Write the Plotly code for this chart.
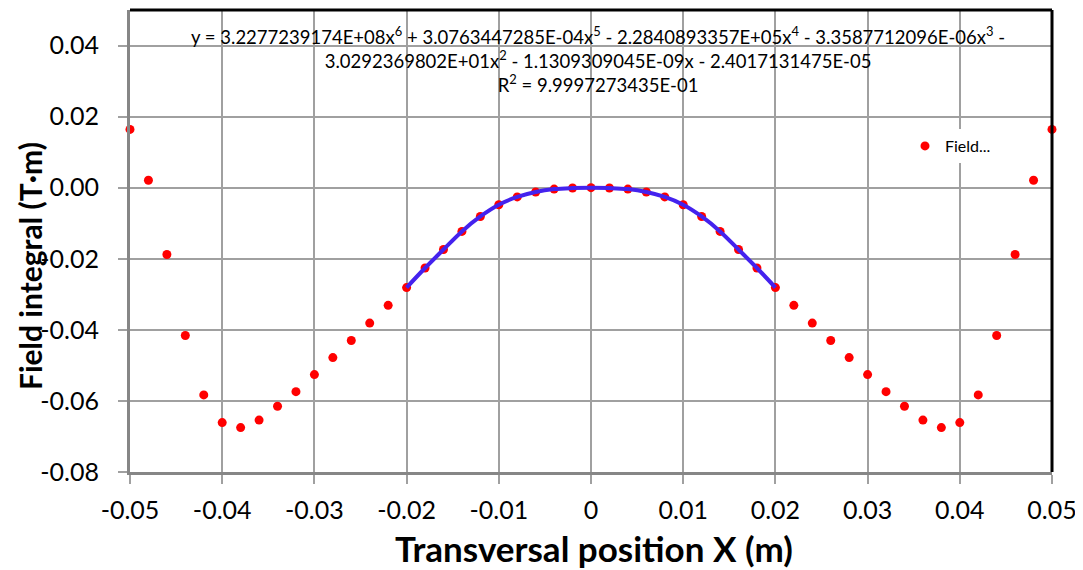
import plotly.graph_objects as go

# ---- data ----
x_pos = [-0.050, -0.048, -0.046, -0.044, -0.042, -0.040, -0.038, -0.036, -0.034, -0.032,
         -0.030, -0.028, -0.026, -0.024, -0.022, -0.020, -0.018, -0.016, -0.014, -0.012,
         -0.010, -0.008, -0.006, -0.004, -0.002, 0.000, 0.002, 0.004, 0.006, 0.008,
         0.010, 0.012, 0.014, 0.016, 0.018, 0.020, 0.022, 0.024, 0.026, 0.028,
         0.030, 0.032, 0.034, 0.036, 0.038, 0.040, 0.042, 0.044, 0.046, 0.048, 0.050]
field_integral = [0.0164, 0.0021, -0.0188, -0.0416, -0.0583, -0.0661, -0.0675, -0.0654, -0.0615, -0.0574,
                  -0.0526, -0.0478, -0.0430, -0.0381, -0.0331, -0.0281, -0.0226, -0.0174, -0.0123, -0.0081,
                  -0.0048, -0.0026, -0.0012, -0.0004, -0.0001, 0.0000, -0.0001, -0.0004, -0.0012, -0.0026,
                  -0.0048, -0.0081, -0.0123, -0.0174, -0.0226, -0.0281, -0.0331, -0.0381, -0.0430, -0.0478,
                  -0.0526, -0.0574, -0.0615, -0.0654, -0.0675, -0.0661, -0.0583, -0.0416, -0.0188, 0.0021, 0.0164]
fit_x = x_pos[15:36]
fit_y = field_integral[15:36]

x_tickvals = [-0.05, -0.04, -0.03, -0.02, -0.01, 0.0, 0.01, 0.02, 0.03, 0.04, 0.05]
x_ticktext = ["-0.05", "-0.04", "-0.03", "-0.02", "-0.01", "0", "0.01", "0.02", "0.03", "0.04", "0.05"]
y_tickvals = [-0.08, -0.06, -0.04, -0.02, 0.0, 0.02, 0.04]
y_ticktext = ["-0.08", "-0.06", "-0.04", "-0.02", "0.00", "0.02", "0.04"]

series_name = "Field..."
equation = ("y = 3.2277239174E+08x<sup>6</sup> + 3.0763447285E-04x<sup>5</sup> - 2.2840893357E+05x<sup>4</sup>"
            " - 3.3587712096E-06x<sup>3</sup> -<br>3.0292369802E+01x<sup>2</sup> - 1.1309309045E-09x"
            " - 2.4017131475E-05<br>R<sup>2</sup> = 9.9997273435E-01")
x_title = "Transversal position X (m)"
y_title = "Field integral (T·m)"

FONT = "Lato"
OFF = 8  # page body margin offset
W, H = 1083 - OFF, 570 - OFF
L, R, T, B = 130 - OFF, 31, 10 - OFF, 98
pw, ph = W - L - R, H - T - B


def px(xp):
    # xp: target pixel in the final screenshot
    return (xp - OFF - L) / pw


def py(yp):
    return (H - B - (yp - OFF)) / ph


fig = go.Figure()
fig.add_trace(go.Scatter(
    x=x_pos, y=field_integral, mode="markers", name=series_name,
    marker=dict(color="#FF0000", size=9), cliponaxis=False, showlegend=True))
fig.add_trace(go.Scatter(
    x=fit_x, y=fit_y, mode="lines", line=dict(color="#4422EE", width=4, shape="spline"),
    showlegend=False, hoverinfo="skip"))

fig.update_layout(
    width=W, height=H,
    margin=dict(l=L, r=R, t=T, b=B),
    paper_bgcolor="white", plot_bgcolor="white",
    font=dict(family=FONT, color="black"),
    showlegend=True,
    legend=dict(x=px(905), y=py(129), xanchor="left", yanchor="top",
                bgcolor="white", font=dict(size=16, family=FONT),
                itemwidth=30, tracegroupgap=0),
    xaxis=dict(range=[-0.05, 0.05], tickvals=x_tickvals, ticktext=x_ticktext,
               showgrid=True, gridcolor="#A0A0A0", gridwidth=1.5,
               showline=True, linecolor="#868686", linewidth=3,
               ticks="outside", ticklen=9, tickwidth=1.5, tickcolor="#A0A0A0",
               tickfont=dict(size=25, family=FONT), zeroline=False,
               ticklabelstandoff=5),
    yaxis=dict(range=[-0.08, 0.05], tickvals=y_tickvals, ticktext=y_ticktext,
               showgrid=True, gridcolor="#A0A0A0", gridwidth=1.5,
               showline=True, linecolor="#868686", linewidth=3,
               ticks="outside", ticklen=9, tickwidth=1.5, tickcolor="#A0A0A0",
               tickfont=dict(size=25, family=FONT), zeroline=False,
               ticklabelstandoff=14),
    shapes=[
        dict(type="rect", xref="paper", yref="paper", x0=px(181), x1=px(1010), y0=py(100), y1=py(20),
             fillcolor="white", line=dict(width=0), layer="between"),
        dict(type="line", xref="paper", yref="paper", x0=0, x1=1, y0=1, y1=1,
             line=dict(color="black", width=3), layer="above"),
        dict(type="line", xref="paper", yref="paper", x0=1, x1=1, y0=0, y1=1,
             line=dict(color="black", width=3), layer="above"),
    ],
    annotations=[
        dict(text=equation, xref="paper", yref="paper", x=px(598), y=py(59),
             xanchor="center", yanchor="middle", showarrow=False, align="center",
             font=dict(size=18.5, family=FONT, color="black")),
        dict(text="<b>" + x_title + "</b>", xref="paper", yref="paper", x=px(594), y=py(548),
             xanchor="center", yanchor="middle", showarrow=False,
             font=dict(size=35, family=FONT, color="black")),
        dict(text="<b>" + y_title + "</b>", xref="paper", yref="paper", x=px(30), y=py(266),
             xanchor="center", yanchor="middle", showarrow=False, textangle=-90,
             font=dict(size=30, family=FONT, color="black")),
    ],
)

fig.write_html("out.html")
